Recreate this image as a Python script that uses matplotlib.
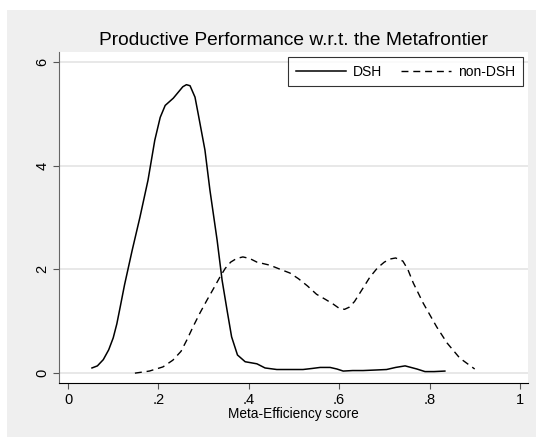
import matplotlib.pyplot as plt
import matplotlib.patches as patches

# kernel density
dsh_x = [0.053, 0.065, 0.078, 0.09, 0.1, 0.108, 0.116, 0.125, 0.142, 0.159, 0.177, 0.192, 0.204,
         0.215, 0.233, 0.254, 0.262, 0.27, 0.281, 0.288, 0.303, 0.314, 0.33, 0.341,
         0.352, 0.362, 0.375, 0.392, 0.418, 0.436, 0.462, 0.49, 0.52, 0.54, 0.558,
         0.58, 0.595, 0.609, 0.63, 0.653, 0.68, 0.705, 0.725, 0.746, 0.772, 0.79,
         0.81, 0.834]
dsh_y = [0.10, 0.14, 0.26, 0.45, 0.68, 0.95, 1.3, 1.7, 2.37, 3.0, 3.72, 4.49, 4.93,
         5.16, 5.30, 5.52, 5.56, 5.54, 5.32, 5.0, 4.3, 3.53, 2.56, 1.79,
         1.21, 0.7, 0.35, 0.22, 0.18, 0.10, 0.07, 0.07, 0.07, 0.09, 0.11,
         0.11, 0.08, 0.04, 0.05, 0.05, 0.06, 0.07, 0.11, 0.14, 0.08, 0.03,
         0.03, 0.04]

non_x = [0.148, 0.18, 0.21, 0.232, 0.25, 0.263, 0.277, 0.292, 0.307, 0.322, 0.336,
         0.348, 0.36, 0.373, 0.387, 0.402, 0.418, 0.447, 0.47, 0.491, 0.51, 0.53,
         0.55, 0.57, 0.587, 0.6, 0.612, 0.622, 0.634, 0.65, 0.668, 0.685, 0.7,
         0.713, 0.725, 0.741, 0.752, 0.764, 0.786, 0.816, 0.839, 0.867, 0.9]
non_y = [0.0, 0.04, 0.12, 0.25, 0.42, 0.64, 0.9, 1.16, 1.4, 1.63, 1.85,
         2.02, 2.14, 2.21, 2.24, 2.21, 2.14, 2.08, 2.0, 1.93, 1.82, 1.68,
         1.52, 1.42, 1.33, 1.25, 1.23, 1.27, 1.38, 1.6, 1.85, 2.03, 2.14,
         2.2, 2.22, 2.16, 2.0, 1.74, 1.35, 0.89, 0.58, 0.29, 0.08]

x_ticks = [0, 0.2, 0.4, 0.6, 0.8, 1]
x_labels = ["0", ".2", ".4", ".6", ".8", "1"]
y_ticks = [0, 2, 4, 6]

plt.rcParams['font.family'] = ['Liberation Sans', 'DejaVu Sans']

fig = plt.figure(figsize=(5.36, 4.37), dpi=100)
fig.patch.set_facecolor("white")
# gray graph region like stata
fig.patches.append(patches.Rectangle((7 / 536, 0), 1, 1 - 10 / 437, transform=fig.transFigure,
                                     facecolor="#efefef", edgecolor="none", zorder=-1))

ax = fig.add_axes([59 / 536, 1 - 383 / 437, (528 - 59) / 536, (383 - 52) / 437])
ax.set_facecolor("white")

ax.plot(dsh_x, dsh_y, color="black", lw=1.1, label="DSH", solid_joinstyle="round")
ax.plot(non_x, non_y, color="black", lw=1.0, dashes=(5, 3.5), label="non-DSH")

ax.set_xlim(-0.02, 1.018)
ax.set_ylim(-0.19, 6.19)
ax.set_xticks(x_ticks)
ax.set_xticklabels(x_labels)
ax.set_yticks(y_ticks)
ax.set_yticklabels([str(v) for v in y_ticks], rotation=90, va="center")
ax.tick_params(labelsize=10.5, length=4, color="#555555", pad=3)
ax.grid(axis="y", color="#e6e6e6", lw=1.3)
ax.set_axisbelow(True)

for s in ["top", "right"]:
    ax.spines[s].set_visible(False)
ax.spines["left"].set_color("#666666")
ax.spines["bottom"].set_color("black")

ax.set_xlabel("Meta-Efficiency score", fontsize=9.8, labelpad=0)
ax.set_title("Productive Performance w.r.t. the Metafrontier", fontsize=13.8, pad=5)

leg = ax.legend(loc="upper right", ncol=2, fontsize=10, frameon=True, fancybox=False,
                handlelength=3.6, handletextpad=0.5, columnspacing=1.4,
                borderaxespad=0.35, borderpad=0.55)
leg.get_frame().set_edgecolor("black")
leg.get_frame().set_linewidth(0.8)

fig.savefig("out.png", dpi=100)
